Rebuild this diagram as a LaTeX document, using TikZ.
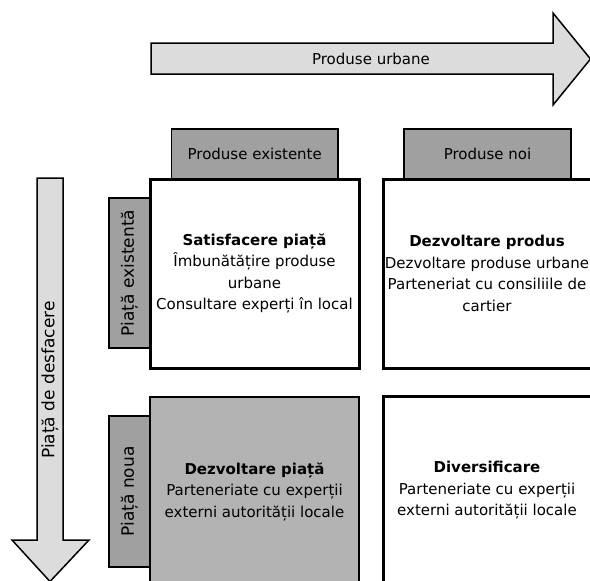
\documentclass[tikz,border=0pt]{standalone}
\usepackage{fontspec}
\setmainfont{DejaVu Sans}
\definecolor{arrowgray}{RGB}{220,220,220}
\definecolor{tabgray}{RGB}{160,160,160}
\definecolor{cellgray}{RGB}{179,179,179}
\begin{document}
\begin{tikzpicture}[x=1pt,y=-1pt,
  txt/.style={font=\fontsize{15}{21.5}\selectfont, align=center, inner sep=0pt},
  sidetxt/.style={font=\fontsize{17}{20}\selectfont, align=center, inner sep=0pt},
  bigarrow/.style={draw=black, line width=1.5pt, fill=arrowgray, line join=miter},
  tab/.style={txt, draw=black, line width=1.5pt, fill=tabgray},
  sidetab/.style={sidetxt, draw=black, line width=1.5pt, fill=tabgray, rotate=90},
  cell/.style={txt, draw=black, line width=3pt, fill=white},
  softcell/.style={txt, draw=black, line width=1.5pt, fill=cellgray}]
\useasboundingbox (0,0) rectangle (590,581);
\clip (0,0) rectangle (590,581);

% horizontal arrow: products
\draw[bigarrow] (151,43) -- (553,43) -- (553,13) -- (590.5,59) -- (553,105)
  -- (553,74) -- (151,74) -- cycle;
\node[txt] (prod) at (371,59) {Produse urbane};

% vertical arrow: markets
\draw[bigarrow] (37,178) -- (63,178) -- (63,540) -- (89,540) -- (50,581.5)
  -- (12,540) -- (37,540) -- cycle;
\node[sidetxt, rotate=90] (mkt) at (50,380) {Piață de desfacere};

% column headers
\node[tab, minimum width=166.5, minimum height=50] (colA) at (254.75,154) {Produse existente};
\node[tab, minimum width=167, minimum height=50] (colB) at (487.5,154) {Produse noi};

% row headers
\node[sidetab, minimum width=150, minimum height=41] (rowA) at (129.5,273) {Piață existentă};
\node[sidetab, minimum width=151, minimum height=41] (rowB) at (129.5,491.5) {Piață noua};

% matrix cells
\node[cell, minimum width=209, minimum height=189] (c11) at (254.5,273.5)
  {\textbf{Satisfacere piață}\\Îmbunătățire produse\\urbane\\Consultare experți în local};
\node[cell, minimum width=208, minimum height=189] (c12) at (487,273.5)
  {\textbf{Dezvoltare produs}\\Dezvoltare produse urbane\\Parteneriat cu consiliile de\\cartier};
\node[softcell, minimum width=209, minimum height=189] (c21) at (254.5,491.5)
  {\textbf{Dezvoltare piață}\\Parteneriate cu experții\\externi autorității locale};
\node[cell, minimum width=208, minimum height=189] (c22) at (487,490.5)
  {\textbf{Diversificare}\\Parteneriate cu experții\\externi autorității locale};
\end{tikzpicture}
\end{document}
